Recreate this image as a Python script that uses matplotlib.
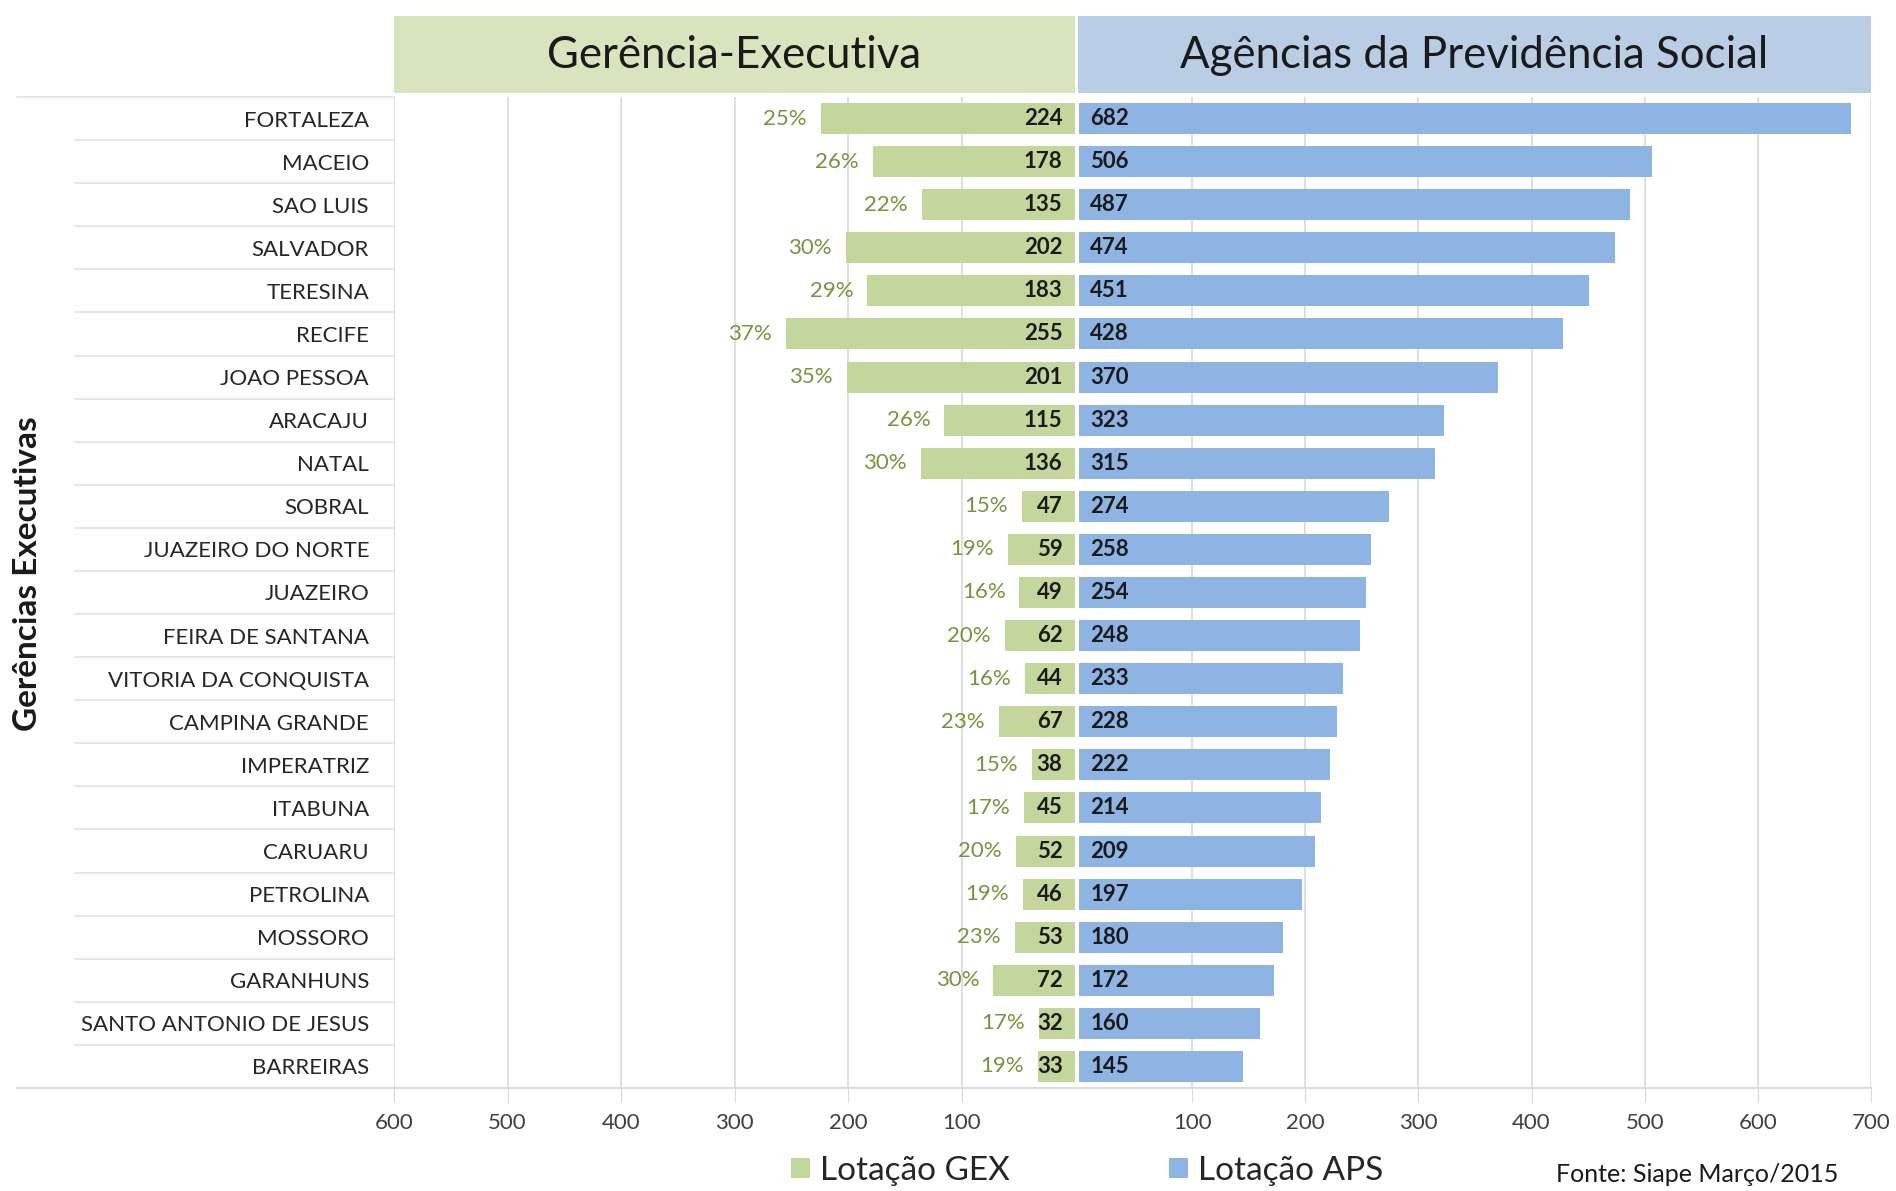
import matplotlib
matplotlib.use("Agg")
import matplotlib.pyplot as plt
from matplotlib.patches import Rectangle, Patch
from matplotlib.lines import Line2D
from matplotlib.transforms import blended_transform_factory

plt.rcParams['font.family'] = ['Lato', 'DejaVu Sans']

cities = ['FORTALEZA', 'MACEIO', 'SAO LUIS', 'SALVADOR', 'TERESINA', 'RECIFE',
          'JOAO PESSOA', 'ARACAJU', 'NATAL', 'SOBRAL', 'JUAZEIRO DO NORTE',
          'JUAZEIRO', 'FEIRA DE SANTANA', 'VITORIA DA CONQUISTA', 'CAMPINA GRANDE',
          'IMPERATRIZ', 'ITABUNA', 'CARUARU', 'PETROLINA', 'MOSSORO', 'GARANHUNS',
          'SANTO ANTONIO DE JESUS', 'BARREIRAS']
gex = [224, 178, 135, 202, 183, 255, 201, 115, 136, 47, 59, 49, 62, 44, 67,
       38, 45, 52, 46, 53, 72, 32, 33]
aps = [682, 506, 487, 474, 451, 428, 370, 323, 315, 274, 258, 254, 248, 233,
       228, 222, 214, 209, 197, 180, 172, 160, 145]
pct = [25, 26, 22, 30, 29, 37, 35, 26, 30, 15, 19, 16, 20, 16, 23, 15, 17, 20,
       19, 23, 30, 17, 19]
left_ticks = [100, 200, 300, 400, 500, 600]
right_ticks = [100, 200, 300, 400, 500, 600, 700]

W, H = 1896, 1191
GREEN = '#c3d69b'
GREEN_HEAD = '#d7e4bd'
BLUE = '#8eb4e3'
BLUE_HEAD = '#b9cde5'
PCT_COL = '#77933c'
GRID = '#d9d9d9'


def fx(px):
    return px / W


def fy(py):
    return 1 - py / H


fig = plt.figure(figsize=(W / 100, H / 100), dpi=100)

top, bot = 97, 1088
axl = fig.add_axes([fx(394), fy(bot), fx(1075 - 394), (bot - top) / H])
axr = fig.add_axes([fx(1079), fy(bot), fx(1871 - 1079), (bot - top) / H])

y = list(range(len(cities)))

axl.barh(y, gex, height=0.72, color=GREEN, zorder=3)
axr.barh(y, aps, height=0.72, color=BLUE, zorder=3)

for i in y:
    axl.annotate(str(gex[i]), (0, i), xytext=(-9, 0), textcoords='offset points',
                 ha='right', va='center', fontsize=16, fontweight='bold', color='#1a1a1a', zorder=4)
    axl.annotate(f'{pct[i]}%', (gex[i], i), xytext=(-10, 0), textcoords='offset points',
                 ha='right', va='center', fontsize=16, color=PCT_COL, zorder=4)
    axr.annotate(str(aps[i]), (0, i), xytext=(8, 0), textcoords='offset points',
                 ha='left', va='center', fontsize=16, fontweight='bold', color='#1a1a1a', zorder=4)

for ax, lim, ticks in [(axl, (600, 0), left_ticks), (axr, (0, 700), right_ticks)]:
    ax.set_xlim(*lim)
    ax.set_ylim(len(cities) - 0.5, -0.5)
    ax.set_xticks(ticks)
    ax.set_xticklabels([str(t) for t in ticks], fontsize=16, color='#404040')
    ax.tick_params(axis='x', length=10, color=GRID, pad=8)
    ax.grid(axis='x', color=GRID, linewidth=1.2, zorder=0)
    for s in ax.spines.values():
        s.set_visible(False)

axl.set_yticks(y)
axl.set_yticklabels(cities, fontsize=16, color='#262626')
axl.tick_params(axis='y', length=0, pad=18)
axr.set_yticks([])

# row separators in label area
tr = blended_transform_factory(axl.transAxes, axl.transData)
for i in range(1, len(cities)):
    axl.plot([(75 - 394) / 681, 0], [i - 0.5, i - 0.5], color='#e3e3e3',
             linewidth=1.2, transform=tr, clip_on=False)
axl.plot([(17 - 394) / 681, 0], [-0.5, -0.5], color='#e3e3e3', linewidth=1.2,
         transform=tr, clip_on=False)
fig.add_artist(Line2D([fx(17), fx(1871)], [fy(bot), fy(bot)], color='#d9d9d9', linewidth=1.4))

# headers
fig.add_artist(Rectangle((fx(394), fy(93)), fx(1075 - 394), (93 - 16) / H,
                         facecolor=GREEN_HEAD, edgecolor='none'))
fig.add_artist(Rectangle((fx(1078), fy(93)), fx(1871 - 1078), (93 - 16) / H,
                         facecolor=BLUE_HEAD, edgecolor='none'))
fig.text(fx((394 + 1075) / 2), fy(55), 'Gerência-Executiva', ha='center', va='center',
         fontsize=31.5, color='#1a1a1a')
fig.text(fx((1078 + 1871) / 2), fy(55), 'Agências da Previdência Social', ha='center',
         va='center', fontsize=31.5, color='#1a1a1a')

fig.text(fx(28), fy(574), 'Gerências Executivas', rotation=90, ha='center', va='center',
         fontsize=24, fontweight='bold', color='#1a1a1a')

handles = [Patch(facecolor=GREEN, edgecolor='none'), Patch(facecolor=BLUE, edgecolor='none')]
fig.legend(handles, ['Lotação GEX', 'Lotação APS'], loc='center',
           bbox_to_anchor=(fx(1087), fy(1171)), ncol=2, frameon=False, fontsize=24,
           handlelength=0.55, handleheight=0.55, handletextpad=0.3, columnspacing=4.8,
           labelcolor='#262626')

fig.text(fx(1556), fy(1175), 'Fonte: Siape Março/2015', ha='left', va='center',
         fontsize=18, color='#1a1a1a')

fig.savefig('out.png', dpi=100)
